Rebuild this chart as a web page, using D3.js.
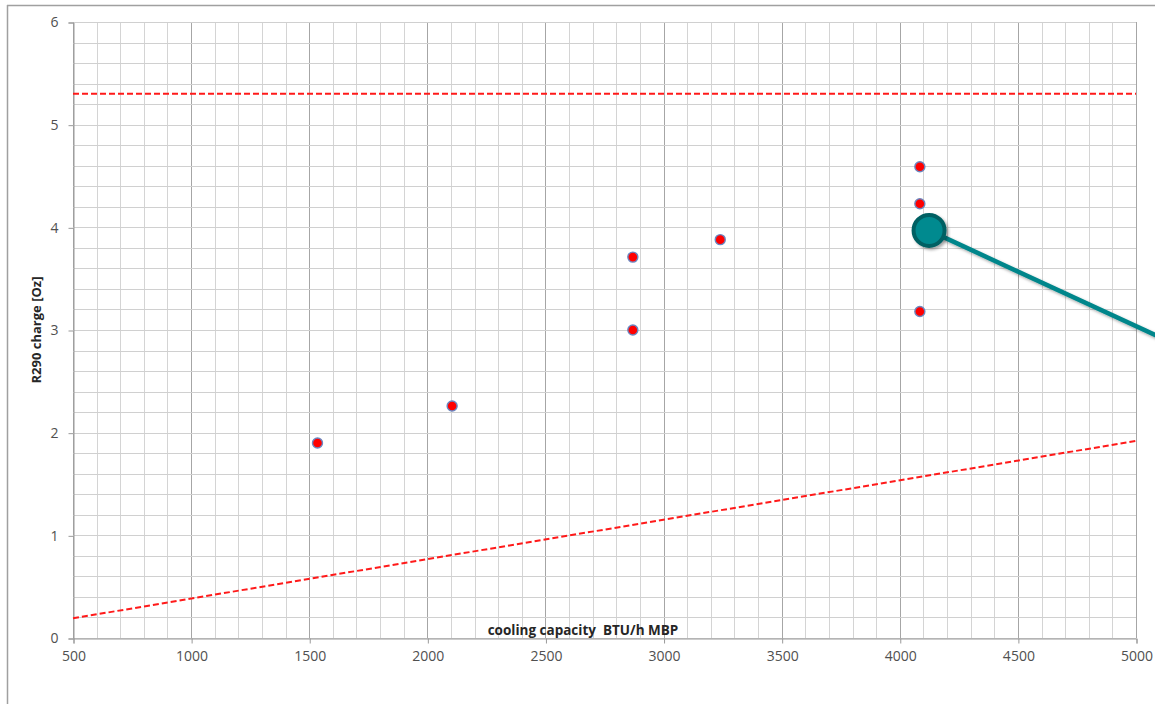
<!DOCTYPE html>
<html>
<head>
<meta charset="utf-8">
<script src="https://cdn.jsdelivr.net/npm/d3@7"></script>
<style>
  html, body { margin: 0; padding: 0; background: #fff; }
  svg { display: block; }
</style>
</head>
<body>
<svg id="chart" width="1155" height="704"></svg>
<script>
// ---- data ----
const capacity = [1535, 2105, 2870, 2870, 3240, 4085, 4085, 4085];
const charge   = [1.90, 2.26, 3.00, 3.71, 3.88, 4.59, 4.23, 3.18];
const upperLimit = 5.30;                 // horizontal red dashed limit
const lowerLimitX = [500, 5000];         // proportional red dashed line
const lowerLimitY = [0.192, 1.92];
const xTicks = [500, 1000, 1500, 2000, 2500, 3000, 3500, 4000, 4500, 5000];
const yTicks = [0, 1, 2, 3, 4, 5, 6];
const calloutPoint = [4124, 3.97];
const calloutEnd = [5110, 2.92];
const xLabel = "cooling capacity  BTU/h MBP";
const yLabel = "R290 charge [Oz]";

// ---- layout ----
const svg = d3.select("#chart");
const pL = 73, pR = 1136, pT = 22, pB = 638;
const x = d3.scaleLinear().domain([500, 5000]).range([pL, pR]);
const y = d3.scaleLinear().domain([0, 6]).range([pB, pT]);
const FONT = "'Open Sans', 'DejaVu Sans', sans-serif";

// outer frame
svg.append("line").attr("x1", 7.5).attr("x2", 7.5).attr("y1", 5).attr("y2", 704)
  .attr("stroke", "#a0a0a0").attr("stroke-width", 1.5);
svg.append("line").attr("x1", 7).attr("x2", 1155).attr("y1", 5.5).attr("y2", 5.5)
  .attr("stroke", "#a0a0a0").attr("stroke-width", 1.5);

// grid
const g = svg.append("g");
const minorX = d3.range(500, 5001, 100);
g.selectAll(".vx").data(minorX).enter().append("line")
  .attr("x1", d => Math.round(x(d)) + 0.5).attr("x2", d => Math.round(x(d)) + 0.5)
  .attr("y1", pT).attr("y2", pB)
  .attr("stroke", d => d % 500 === 0 ? "#a6a6a6" : "#d4d4d4")
  .attr("stroke-width", 1);
const minorY = d3.range(0, 30.5, 1).map(i => i * 0.2);
g.selectAll(".hy").data(minorY).enter().append("line")
  .attr("x1", pL).attr("x2", pR)
  .attr("y1", d => Math.round(y(d)) + 0.5).attr("y2", d => Math.round(y(d)) + 0.5)
  .attr("stroke", "#d0d0d0").attr("stroke-width", 1);

// axes
const xAxis = d3.axisBottom(x).tickValues(xTicks).tickSize(5).tickPadding(6).tickFormat(d3.format("d"));
const yAxis = d3.axisLeft(y).tickValues(yTicks).tickSize(5).tickPadding(10).tickFormat(d3.format("d"));
const gx = svg.append("g").attr("transform", `translate(0.5,${pB + 0.5})`).call(xAxis);
const gy = svg.append("g").attr("transform", `translate(${pL + 0.5},0.5)`).call(yAxis);
[gx, gy].forEach(a => {
  a.select(".domain").attr("stroke", "#999");
  a.selectAll(".tick line").attr("stroke", "#999");
  a.selectAll(".tick text").attr("fill", "#505050")
    .style("font-family", FONT).style("font-size", "14px");
});
gx.selectAll(".tick text").attr("dy", "0.85em");

// limit lines
svg.append("line")
  .attr("x1", x(500)).attr("x2", x(5000))
  .attr("y1", y(upperLimit)).attr("y2", y(upperLimit))
  .attr("stroke", "#ff1a1a").attr("stroke-width", 2).attr("stroke-dasharray", "6,3");
svg.append("line")
  .attr("x1", x(lowerLimitX[0])).attr("x2", x(lowerLimitX[1]))
  .attr("y1", y(lowerLimitY[0])).attr("y2", y(lowerLimitY[1]))
  .attr("stroke", "#ff1a1a").attr("stroke-width", 2).attr("stroke-dasharray", "6,3");

// data points
svg.selectAll(".pt").data(capacity.map((c, i) => [c, charge[i]])).enter().append("circle")
  .attr("cx", d => x(d[0])).attr("cy", d => y(d[1])).attr("r", 5)
  .attr("fill", "#ff0000").attr("stroke", "#6b86c0").attr("stroke-width", 1.4);

// axis titles
svg.append("text").text(xLabel)
  .attr("x", 583).attr("y", 635).attr("text-anchor", "middle")
  .style("white-space", "pre")
  .style("font-family", FONT).style("font-size", "13.5px")
  .style("font-weight", "bold").attr("fill", "#262626");
svg.append("text").text(yLabel)
  .attr("transform", "translate(41,330) rotate(-90)").attr("text-anchor", "middle")
  .style("font-family", FONT).style("font-size", "13px")
  .style("font-weight", "bold").attr("fill", "#262626");

// callout
const defs = svg.append("defs");
const f = defs.append("filter").attr("id", "shadow").attr("x", "-20%").attr("y", "-20%").attr("width", "140%").attr("height", "140%");
f.append("feDropShadow").attr("dx", 2).attr("dy", 2).attr("stdDeviation", 1.5).attr("flood-color", "#000").attr("flood-opacity", 0.35);
svg.append("line")
  .attr("x1", x(calloutPoint[0])).attr("y1", y(calloutPoint[1]))
  .attr("x2", x(calloutEnd[0])).attr("y2", y(calloutEnd[1]))
  .attr("stroke", "#00868b").attr("stroke-width", 4.5).attr("filter", "url(#shadow)");
svg.append("circle")
  .attr("cx", x(calloutPoint[0])).attr("cy", y(calloutPoint[1])).attr("r", 15.5)
  .attr("fill", "#008a8f").attr("stroke", "#006063").attr("stroke-width", 4)
  .attr("filter", "url(#shadow)");
</script>
</body>
</html>
